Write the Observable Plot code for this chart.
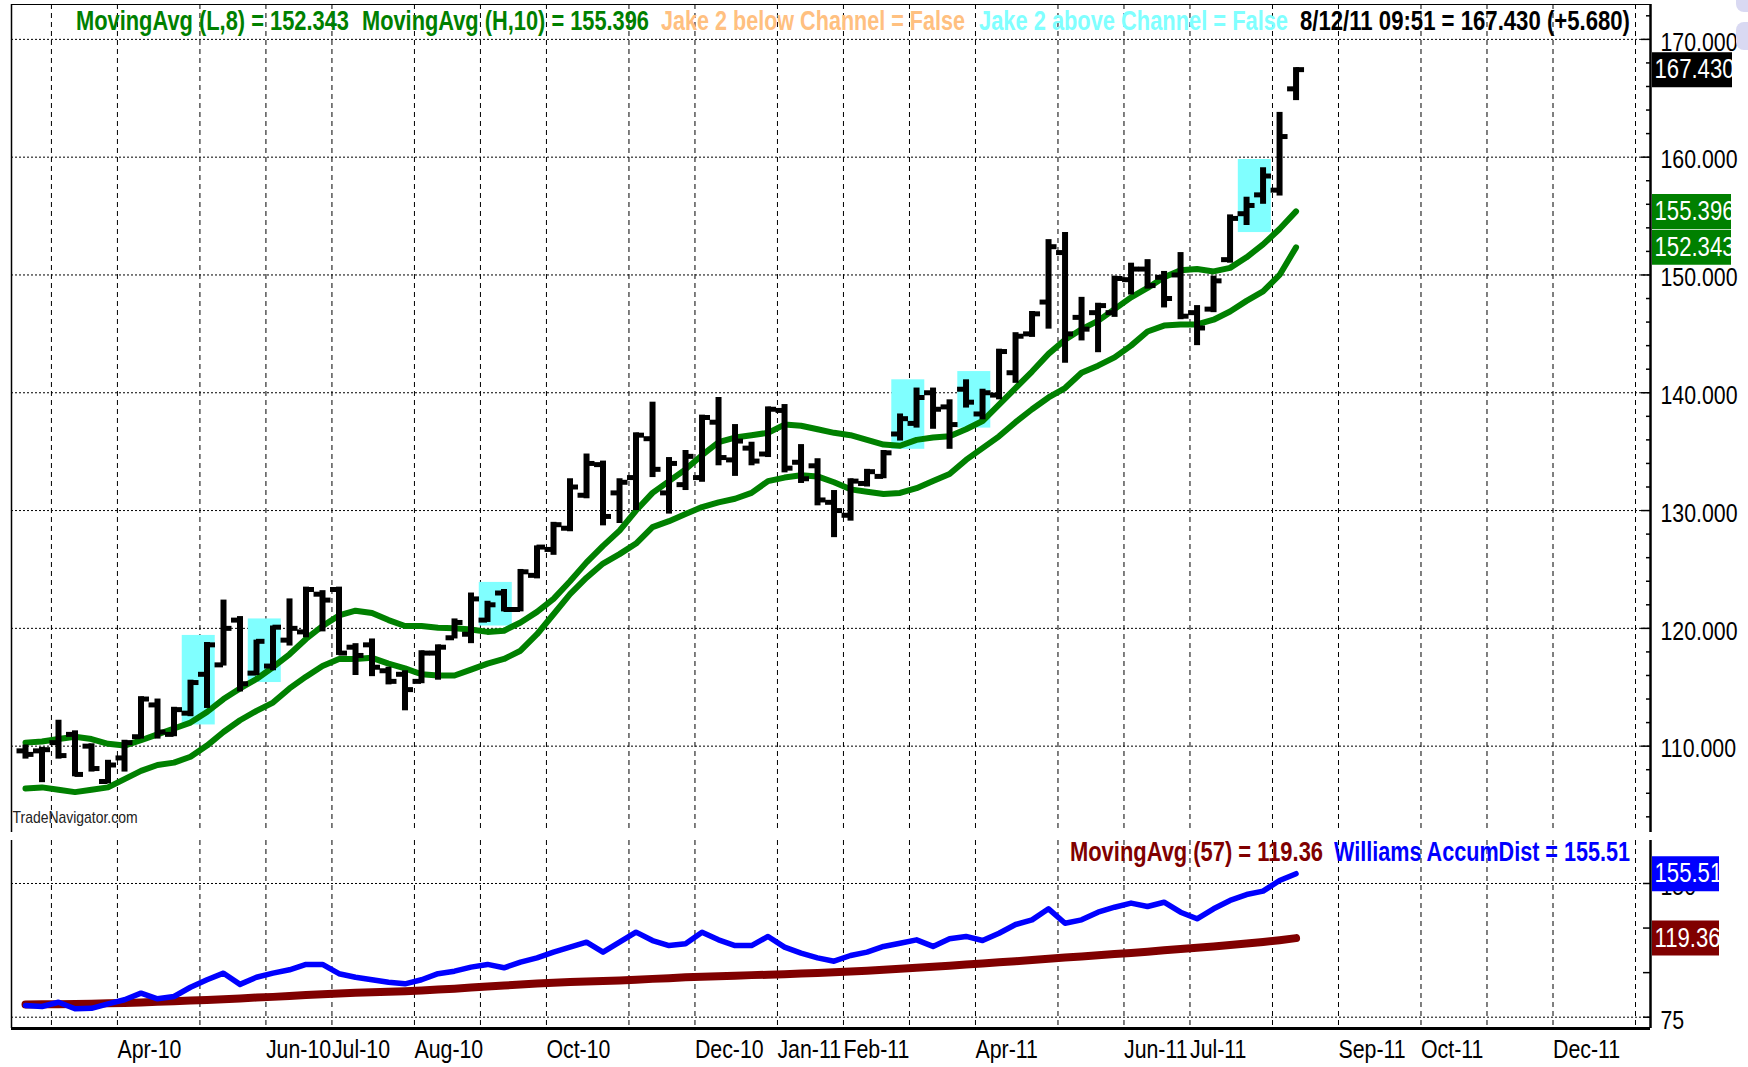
<!DOCTYPE html>
<html><head><meta charset="utf-8">
<script src="https://cdn.jsdelivr.net/npm/d3@7"></script>
<script src="https://cdn.jsdelivr.net/npm/@observablehq/plot@0.6"></script>
<style>
html,body{margin:0;padding:0;background:#fff;}
#wrap{position:relative;width:1748px;height:1067px;overflow:hidden;background:#fff;}
#wrap svg{position:absolute;left:0;}
.leg{position:absolute;white-space:pre;font-size:27px;line-height:1;transform-origin:0 50%;}
.deco{position:absolute;background:#d9d9f2;border-radius:8px;}
</style></head><body><div id="wrap"></div>
<script>
// ---------- data (weekly bars, Fridays, first bar 2010-02-19) ----------
const firstBar = "2010-02-19";
const opens = [109.6,109.6,110.3,111.0,110.0,107.0,109.0,110.8,113.5,111.0,112.8,116.1,116.9,120.7,116.2,116.8,119.0,119.7,122.9,123.3,118.4,118.6,116.4,116.1,115.5,117.9,119.2,119.5,120.7,123.0,121.6,124.5,126.7,128.5,131.3,133.9,131.5,132.8,136.1,131.5,132.2,132.8,137.5,134.3,135.3,134.8,138.5,134.1,133.8,130.7,129.6,132.3,132.9,136.5,137.4,140.0,138.8,140.3,138.2,139.8,141.7,145.0,147.7,151.9,146.4,146.8,146.8,149.6,150.5,149.8,150.0,146.8,147.1,151.3,155.2,156.8,157.2,165.8];
const highs = [110.1,109.9,112.2,111.3,110.2,108.8,110.5,114.2,114.0,113.3,115.6,118.8,122.4,121.0,119.0,120.2,122.5,123.5,123.2,123.5,118.7,119.1,116.7,116.4,118.1,118.6,120.8,123.0,122.3,123.3,125.0,127.0,129.0,132.7,134.8,134.2,132.7,136.6,139.2,134.5,135.1,138.1,139.6,137.3,135.8,138.8,139.0,135.6,134.4,131.7,132.7,133.5,135.1,138.2,140.4,140.4,139.4,141.1,140.3,143.7,145.1,146.9,153.0,153.6,148.1,147.6,149.9,151.0,151.3,150.3,151.9,147.4,149.9,155.1,156.6,159.1,163.8,167.6];
const lows = [108.9,106.9,108.9,107.4,107.8,106.8,107.8,110.6,110.6,110.8,112.5,113.2,116.8,114.6,116.0,116.4,118.5,119.2,119.7,117.7,116.0,115.9,115.2,113.0,115.3,115.6,119.1,118.7,120.5,121.4,121.4,124.2,126.2,128.2,131.0,128.7,128.9,130.0,132.8,129.7,131.7,132.4,133.8,132.9,133.8,134.5,133.2,132.3,130.4,127.7,129.1,132.0,132.7,135.9,137.0,136.9,135.2,138.7,137.7,139.4,140.8,144.7,145.4,142.5,144.4,143.4,146.4,148.3,148.8,147.2,146.2,144.0,146.8,151.0,154.2,156.0,156.7,164.8];
const closes = [109.3,109.7,109.2,107.6,108.1,108.4,110.3,114.0,111.2,113.1,115.4,118.6,120.0,115.3,118.9,120.1,120.0,123.3,122.4,117.9,117.7,116.7,115.5,114.8,117.9,118.4,120.5,122.5,122.0,121.6,124.8,126.9,128.8,132.0,134.0,129.5,132.4,136.4,133.5,134.0,134.6,137.9,134.5,135.9,134.2,138.6,133.6,132.7,130.9,130.0,132.5,133.3,134.9,137.8,139.6,138.6,137.3,139.2,140.0,143.5,144.8,146.7,152.4,145.0,145.4,147.4,149.7,150.5,149.1,148.0,146.5,145.5,149.5,154.8,155.9,158.4,161.75,167.43];
const movingAvgHigh10 = [110.3,110.4,110.6,110.8,110.6,110.2,110.05,110.5,111.0,111.5,112.0,112.9,114.0,114.9,115.7,116.7,117.8,119.1,120.2,121.1,121.5,121.3,120.7,120.2,120.2,120.05,120.0,119.9,119.7,119.8,120.5,121.4,122.5,124.0,125.6,127.0,128.3,130.0,131.5,132.5,133.5,134.7,135.8,136.2,136.4,136.6,137.3,137.2,136.9,136.6,136.4,136.0,135.6,135.5,136.0,136.2,136.3,136.9,137.6,139.0,140.4,141.8,143.3,144.5,145.4,146.1,147.1,148.1,148.9,149.8,150.4,150.5,150.3,150.6,151.5,152.6,153.9,155.396];
const movingAvgLow8 = [106.4,106.5,106.3,106.1,106.3,106.5,107.2,107.9,108.4,108.6,109.1,110.05,111.2,112.2,113.0,113.7,114.9,115.9,116.8,117.4,117.4,117.5,117.0,116.6,116.1,116.0,116.0,116.5,117.0,117.4,118.1,119.5,121.2,122.9,124.3,125.5,126.3,127.2,128.6,129.1,129.7,130.3,130.7,131.0,131.5,132.5,132.8,133.0,132.9,132.4,131.8,131.6,131.4,131.5,131.9,132.5,133.1,134.3,135.3,136.3,137.5,138.6,139.6,140.4,141.7,142.3,143.0,144.0,145.2,145.7,145.8,145.8,146.2,146.9,147.8,148.6,150.0,152.343];
const williamsAccumDist = [81.6,81.0,83.4,79.7,80.0,82.5,84.8,88.5,85.3,86.6,91.8,96.0,99.7,93.4,97.4,99.7,101.6,104.6,104.6,99.4,97.4,96.0,94.6,93.7,96.0,99.4,100.8,103.1,104.6,102.7,105.9,108.3,111.5,114.3,117.1,111.5,117.1,122.7,118.0,115.2,116.2,122.7,118.4,115.2,115.2,120.3,114.3,110.9,108.3,106.4,109.6,111.5,114.7,116.5,118.4,114.7,119.0,120.3,118.0,122.1,127.0,129.6,135.8,127.7,129.6,133.9,136.7,139.0,137.1,139.5,133.9,130.2,135.8,140.5,143.8,145.7,151.7,155.51];
const movingAvgAD57 = [82.1,82.2,82.3,82.4,82.6,82.8,83.0,83.3,83.6,83.9,84.3,84.7,85.1,85.5,86.0,86.4,86.9,87.4,87.9,88.3,88.7,89.0,89.3,89.6,90.0,90.5,91.0,91.6,92.2,92.8,93.3,93.9,94.3,94.7,95.0,95.3,95.6,96.0,96.5,96.9,97.4,97.7,98.0,98.3,98.6,98.8,99.1,99.5,99.8,100.2,100.6,101.1,101.6,102.2,102.8,103.3,103.9,104.5,105.1,105.8,106.4,107.1,107.8,108.5,109.1,109.7,110.4,111.0,111.7,112.5,113.2,114.0,114.7,115.5,116.3,117.2,118.2,119.36];
// "Jake 2 above Channel" highlight boxes: first bar index of each two-bar box, price top/bottom
const highlightStart = [10,14,28,53,57,74];
const highlightTop = [119.4,120.8,123.9,141.1,141.8,159.8];
const highlightBottom = [111.8,115.4,120.2,135.2,137.0,153.6];
const priceTicks = [110,120,130,140,150,160,170];
const adTicks = [75,100,125,150];
const adLabelTicks = [150,75];
const monthLabels = ["Apr-10","Jun-10","Jul-10","Aug-10","Oct-10","Dec-10","Jan-11","Feb-11","Apr-11","Jun-11","Jul-11","Sep-11","Oct-11","Dec-11"];
const gridFrom = "2010-03", gridTo = "2012-01";

// ---------- helpers ----------
function hasFont(name){
  const c=document.createElement("canvas").getContext("2d");
  const s="MovingAvg (L,8) = 152.343";
  c.font="40px monospace"; const w0=c.measureText(s).width;
  c.font=`40px "${name}", monospace`; return Math.abs(c.measureText(s).width-w0)>0.5;
}
const narrow = hasFont("Liberation Sans Narrow") ? '"Liberation Sans Narrow"' : (hasFont("Arial Narrow") ? '"Arial Narrow"' : null);
const FONT = narrow ? narrow+', "Liberation Sans", sans-serif' : '"Liberation Sans", Arial, sans-serif';
const DAY = 864e5;
const t0 = new Date(firstBar+"T00:00:00Z").getTime();
const bars = opens.map((o,i)=>({date:new Date(t0+7*i*DAY),open:o,high:highs[i],low:lows[i],close:closes[i],
  maH:movingAvgHigh10[i],maL:movingAvgLow8[i],ad:williamsAccumDist[i],adma:movingAvgAD57[i]}));
const xDomain=[new Date(t0-0.848*7*DAY), new Date(t0+98.48*7*DAY)];
function firstFriday(y,m){const d=new Date(Date.UTC(y,m,1));const off=(5-d.getUTCDay()+7)%7;return new Date(Date.UTC(y,m,1+off));}
const monthStarts = d3.utcMonth.range(new Date(gridFrom+"-01T00:00:00Z"), d3.utcMonth.offset(new Date(gridTo+"-01T00:00:00Z"),1));
const gridDates = monthStarts.map(m=>new Date(+firstFriday(m.getUTCFullYear(),m.getUTCMonth())-3*DAY));
const mon = {Jan:0,Feb:1,Mar:2,Apr:3,May:4,Jun:5,Jul:6,Aug:7,Sep:8,Oct:9,Nov:10,Dec:11};
const labelData = monthLabels.map(s=>{const [m,y]=s.split("-");return {label:s,date:new Date(+firstFriday(2000+ +y,mon[m])-3*DAY)};});
const highlights = highlightStart.map((s,i)=>({x1:new Date(t0+(7*s-3.5)*DAY),x2:new Date(t0+(7*(s+1)+3.5)*DAY),y1:highlightBottom[i],y2:highlightTop[i]}));

const W=1748, ML=11, MR=98, PW=W-ML-MR;
const mainY=[102.67,172.96], lowY=[68.66,174.12];
const minorTicks=d3.range(104,173,2).filter(v=>v%10!==0);
const f3=d3.format(".3f"), f2=d3.format(".2f");
const last=bars[bars.length-1];
const TICK=3.6*DAY;

const main = Plot.plot({
  width:W, height:836, marginLeft:ML, marginRight:MR, marginTop:4, marginBottom:4,
  x:{type:"utc", domain:xDomain, axis:null},
  y:{domain:mainY},
  style:{fontFamily:FONT, background:"transparent", overflow:"visible"},
  marks:[
    Plot.ruleY(priceTicks,{stroke:"#000",strokeWidth:1,strokeDasharray:"2,2"}),
    Plot.ruleX(gridDates,{stroke:"#000",strokeWidth:1,strokeDasharray:"5,4"}),
    Plot.rect(highlights,{x1:"x1",x2:"x2",y1:"y1",y2:"y2",fill:"#80FFFF"}),
    Plot.line(bars,{x:"date",y:"maH",stroke:"#008000",strokeWidth:6,strokeLinejoin:"round",strokeLinecap:"round"}),
    Plot.line(bars,{x:"date",y:"maL",stroke:"#008000",strokeWidth:6,strokeLinejoin:"round",strokeLinecap:"round"}),
    Plot.ruleX(bars,{x:"date",y1:"low",y2:"high",stroke:"#000",strokeWidth:6}),
    Plot.ruleY(bars,{y:"open",x1:d=>new Date(+d.date-TICK),x2:"date",stroke:"#000",strokeWidth:5}),
    Plot.ruleY(bars,{y:"close",x1:"date",x2:d=>new Date(+d.date+TICK),stroke:"#000",strokeWidth:5}),
    Plot.ruleX([xDomain[0]],{stroke:"#000",strokeWidth:1.5}),
    Plot.ruleY([mainY[1]],{stroke:"#000",strokeWidth:1}),
    Plot.ruleX([xDomain[1]],{stroke:"#000",strokeWidth:2.5}),
    Plot.tickY(minorTicks,{y:d=>d,stroke:"#000",strokeWidth:1.5,insetLeft:PW-4}),
    Plot.tickY(priceTicks,{y:d=>d,stroke:"#000",strokeWidth:1.5,insetLeft:PW-9}),
    Plot.axisY({anchor:"right",ticks:priceTicks,tickSize:0,tickPadding:10,tickFormat:f3,fontSize:26,dy:3,fill:"#000"}),
    Plot.tickY([last.close],{y:d=>d,stroke:"#000",strokeWidth:35,insetLeft:PW+2,insetRight:-82}),
    Plot.tickY([last.maH,last.maL],{y:d=>d,stroke:"#008000",strokeWidth:35,insetLeft:PW+2,insetRight:-81}),
    Plot.text([last.close,last.maH,last.maL],{y:d=>d,text:d=>f3(d),frameAnchor:"right",dx:4,textAnchor:"start",fill:"#fff",fontSize:27}),
    Plot.text(["TradeNavigator.com"],{frameAnchor:"bottom-left",dx:1,dy:-10,textAnchor:"start",fill:"#222",fontSize:17})
  ]
});
main.style.top="0px";

const lower = Plot.plot({
  width:W, height:231, marginLeft:ML, marginRight:MR, marginTop:4, marginBottom:39,
  x:{type:"utc", domain:xDomain, axis:null},
  y:{domain:lowY},
  style:{fontFamily:FONT, background:"transparent", overflow:"visible"},
  marks:[
    Plot.ruleY(adLabelTicks,{stroke:"#000",strokeWidth:1,strokeDasharray:"2,2"}),
    Plot.ruleX(gridDates,{stroke:"#000",strokeWidth:1,strokeDasharray:"5,4"}),
    Plot.line(bars,{x:"date",y:"adma",stroke:"#800000",strokeWidth:8,strokeLinejoin:"round"}),
    Plot.line(bars,{x:"date",y:"ad",stroke:"#0000FF",strokeWidth:5.5,strokeLinejoin:"round",strokeLinecap:"round"}),
    Plot.ruleX([xDomain[0]],{stroke:"#000",strokeWidth:1.5}),
    Plot.ruleX([xDomain[1]],{stroke:"#000",strokeWidth:2.5}),
    Plot.ruleY([lowY[0]],{stroke:"#000",strokeWidth:3}),
    Plot.tickY(adTicks,{y:d=>d,stroke:"#000",strokeWidth:1.5,insetLeft:PW-7}),
    Plot.axisY({anchor:"right",ticks:adLabelTicks,tickSize:0,tickPadding:10,tickFormat:d=>String(d),fontSize:26,dy:3,fill:"#000"}),
    Plot.tickY([last.ad],{y:d=>d,stroke:"#0000FF",strokeWidth:35,insetLeft:PW+2,insetRight:-69}),
    Plot.tickY([last.adma],{y:d=>d,stroke:"#800000",strokeWidth:35,insetLeft:PW+2,insetRight:-69}),
    Plot.text([last.ad,last.adma],{y:d=>d,text:d=>f2(d),frameAnchor:"right",dx:4,textAnchor:"start",fill:"#fff",fontSize:27}),
    Plot.text(labelData,{x:"date",text:"label",frameAnchor:"bottom",dy:21,textAnchor:"start",lineAnchor:"middle",fill:"#000",fontSize:26})
  ]
});
lower.style.top="836px";

const wrap=document.getElementById("wrap");
wrap.appendChild(main); wrap.appendChild(lower);

// condense SVG text if no narrow face is installed
if(!narrow){
  for(const t of wrap.querySelectorAll("svg text")){
    const L=t.getComputedTextLength(); if(L>0){t.setAttribute("textLength",L*0.82);t.setAttribute("lengthAdjust","spacingAndGlyphs");}
  }
}

// legends (colored segments), fitted to their measured extents
const legends=[
  {t:"MovingAvg (L,8) = "+f3(last.maL),c:"#008000",x:76,w:273,y:22},
  {t:"MovingAvg (H,10) = "+f3(last.maH),c:"#008000",x:362,w:287,y:22},
  {t:"Jake 2 below Channel = False",c:"#FFC080",x:661,w:304,y:22},
  {t:"Jake 2 above Channel = False",c:"#80FFFF",x:979,w:309,y:22},
  {t:"8/12/11 09:51 = "+f3(last.close)+" (+"+f3(last.close-bars[bars.length-2].close)+")",c:"#000",x:1300,w:330,y:22},
  {t:"MovingAvg (57) = "+f2(last.adma),c:"#800000",x:1070,w:253,y:853},
  {t:"Williams AccumDist = "+f2(last.ad),c:"#0000FF",x:1334,w:296,y:853}
];
for(const l of legends){
  const s=document.createElement("div"); s.className="leg"; s.textContent=l.t;
  s.style.color=l.c; s.style.fontFamily=FONT; s.style.fontWeight="bold"; s.style.left=l.x+"px"; s.style.top=(l.y-14)+"px";
  wrap.appendChild(s);
  const w=s.getBoundingClientRect().width; s.style.transform=`scaleX(${l.w/w})`;
}
// window-frame decoration at the right edge of the screenshot
for(const [top,h] of [[-8,20],[22,28]]){
  const d=document.createElement("div"); d.className="deco";
  d.style.left="1736px"; d.style.width="24px"; d.style.top=top+"px"; d.style.height=h+"px"; wrap.appendChild(d);
}
</script></body></html>
